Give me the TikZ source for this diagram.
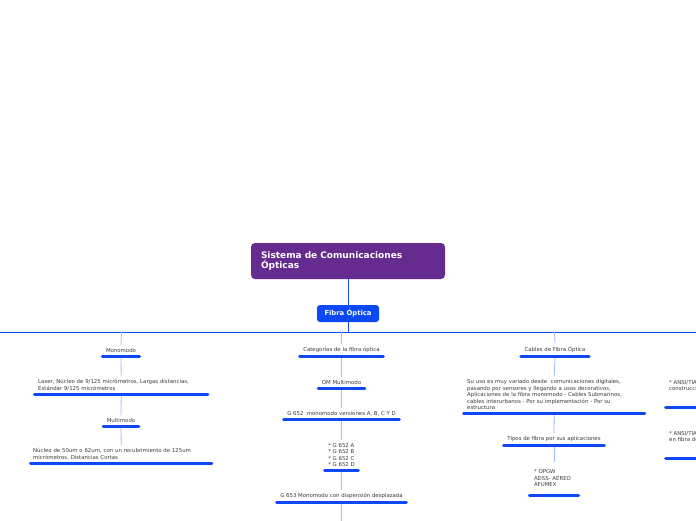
\documentclass[tikz,border=0pt]{standalone}
\usepackage{fontspec}
\setmainfont{DejaVu Sans}
\usetikzlibrary{positioning}
\definecolor{rootpurple}{RGB}{102,43,143}
\definecolor{mainblue}{RGB}{12,72,245}
\definecolor{linkblue}{RGB}{160,186,245}
\definecolor{txtgray}{RGB}{60,60,60}

\begin{document}
\begin{tikzpicture}[x=1pt,y=-1pt,
        root node/.style={rectangle,rounded corners=4pt,fill=rootpurple,text=white,
          font=\fontsize{9}{10}\selectfont\bfseries,minimum width=194pt,minimum height=36pt,
          text width=174pt,align=left,inner sep=0pt},
        main node/.style={rectangle,rounded corners=3pt,fill=mainblue,text=white,
          font=\fontsize{6.8}{7}\selectfont\bfseries,minimum width=62pt,minimum height=17pt,inner sep=0pt},
        sub node/.style={text=txtgray,font=\fontsize{5.4}{6.5}\selectfont,inner xsep=5pt,inner ysep=3pt},
        bar/.style={mainblue,line width=3pt,line cap=round,shorten <=1.5pt,shorten >=1.5pt},
        link/.style={linkblue,line width=0.8pt},
        trunk/.style={mainblue,line width=0.9pt}]

    \path[use as bounding box,clip] (0,0) rectangle (696,520);

    \node[root node] (root) at (348,261) {Sistema de Comunicaciones\\ Ópticas};
    \node[main node] (fibra) at (348,313.5) {Fibra Óptica};

    \coordinate (hubL) at (-10,332);
    \coordinate (hubR) at (706,332);
    \coordinate (hubM) at (348,332);
    \coordinate (hub1) at (121.5,332);
    \coordinate (hub2) at (341.5,332);
    \coordinate (hub3) at (554.5,332);

    % monomodo / multimodo
    \node[sub node,anchor=south] (mono) at (121,356) {Monomodo};
    \node[sub node,anchor=south west,text width=166pt,align=left] (laser) at (33,394)
        {Laser, Núcleo de 9/125 micrómetros, Largas distancias,\\ Estándar 9/125 micrómetros};
    \node[sub node,anchor=south] (multi) at (121,426) {Multimodo};
    \node[sub node,anchor=south west,text width=176pt,align=left,inner xsep=4pt] (nucleo) at (29,463)
        {Núcleo de 50um o 62um, con un recubrimiento de 125um\\ micrómetros, Distancias Cortas};

    % categorias
    \node[sub node,anchor=south] (cat) at (341.5,356) {Categorías de la fibra óptica};
    \node[sub node,anchor=south] (om) at (341.5,388) {OM Multimodo};
    \node[sub node,anchor=south] (g652) at (341.5,419) {G 652\ \ monomodo versiones A, B, C Y D};
    \node[sub node,anchor=south,align=left] (g652v) at (341.5,470)
        {* G 652 A\\ * G 652 B\\ * G 652 C\\ * G 652 D};
    \node[sub node,anchor=south] (g653) at (341.5,502) {G 653 Monomodo con dispensión desplazada};
    \coordinate (g653end) at (341.5,530);

    % cables
    \node[sub node,anchor=south] (cables) at (555,356) {Cables de Fibra Óptica};
    \node[sub node,anchor=south west,text width=174pt,align=left] (uso) at (462,413)
        {Su uso es muy variado desde\ \ comunicaciones digitales,\\
         pasando por sensores y llegando a usos decorativos,\\
         Aplicaciones de la fibra monomodo - Cables Submarinos,\\
         cables interurbanos - Por su implementación - Por su\\
         estructura};
    \node[sub node,anchor=south] (tipos) at (554,445) {Tipos de fibra por sus aplicaciones};
    \node[sub node,anchor=south,text width=40pt,align=left,inner xsep=6pt,inner ysep=8pt] (opgw) at (554,495)
        {* OPGW\\ *ADSS- AEREO\\ * AFUMEX};

    % ansi (cut at the edge)
    \node[sub node,anchor=south west,text width=160pt,align=left,inner ysep=16pt] (ansi1) at (664,407)
        {* ANSI/TIA/EIA\\ construcción};
    \node[sub node,anchor=south west,text width=160pt,align=left,inner ysep=16pt] (ansi2) at (664,458)
        {* ANSI/TIA/EIA\\ en fibra de};

    \draw[trunk] (root) -- (fibra);
    \draw[trunk] (fibra) -- (hubM);
    \draw[trunk] (hubL) -- (hubR);

    \path[link]
    (hub1) edge (mono.north)
    (mono.south) edge (laser.north)
    (laser.south) edge (multi.north)
    (multi.south) edge (nucleo.north)

    (hub2) edge (cat.north)
    (cat.south) edge (om.north)
    (om.south) edge (g652.north)
    (g652.south) edge (g652v.north)
    (g652v.south) edge (g653.north)
    (g653.south) edge (g653end)

    (hub3) edge (cables.north)
    (cables.south) edge (uso.north)
    (uso.south) edge (tipos.north)
    (tipos.south) edge (opgw.north)
    ;

    \foreach \n in {mono,laser,multi,nucleo,cat,om,g652,g652v,g653,cables,uso,tipos,opgw,ansi1,ansi2}
        \draw[bar] (\n.south west) -- (\n.south east);

\end{tikzpicture}
\end{document}
